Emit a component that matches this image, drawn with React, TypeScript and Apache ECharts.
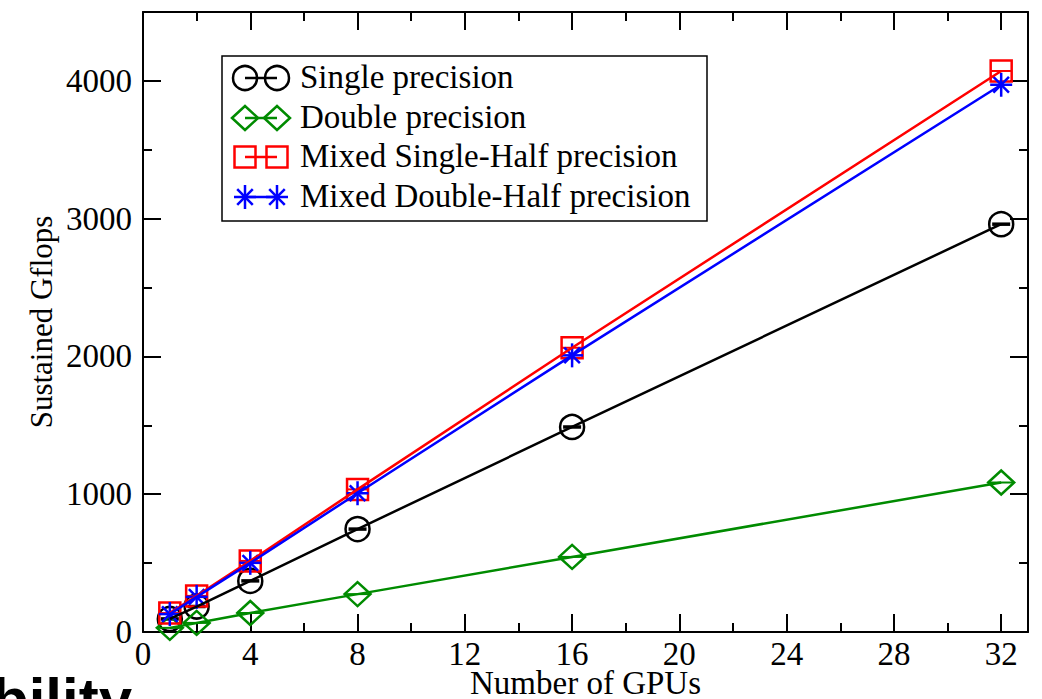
import React, { useEffect, useRef } from 'react';
import * as echarts from 'echarts';

const gpus = [1, 2, 4, 8, 16, 32];
const singlePrecision = [95, 185, 371, 747, 1488, 2960];
const doublePrecision = [30, 66, 138, 275, 545, 1085];
const mixedSingleHalf = [137, 262, 516, 1035, 2063, 4072];
const mixedDoubleHalf = [130, 255, 502, 1007, 2008, 3972];

const xMajorTicks = [0, 4, 8, 12, 16, 20, 24, 28, 32];
const xMinorTicks = [2, 6, 10, 14, 18, 22, 26, 30];
const yMajorTicks = [0, 1000, 2000, 3000, 4000];
const yMinorTicks = [500, 1500, 2500, 3500];

const seriesNames = [
  'Single precision',
  'Double precision',
  'Mixed Single-Half precision',
  'Mixed Double-Half precision',
];
const seriesValues = [singlePrecision, doublePrecision, mixedSingleHalf, mixedDoubleHalf];
const seriesColors = ['#000000', '#008b00', '#ff0000', '#0000ff'];
const markerKinds = ['circle', 'diamond', 'square', 'star'];

const FONT = '"Liberation Serif", "Times New Roman", serif';

function markerChildren(kind: string, cx: number, cy: number, color: string, withBar: boolean): any[] {
  const s = { fill: 'none', stroke: color, lineWidth: 2.5 };
  const bar = (half: number, w: number) => ({
    type: 'line',
    shape: { x1: cx - half, y1: cy, x2: cx + half, y2: cy },
    style: { stroke: color, lineWidth: w },
  });
  let out: any[] = [];
  if (kind === 'circle') {
    out = [{ type: 'circle', shape: { cx, cy, r: 12 }, style: s }];
    if (withBar) out.push(bar(9, 3.5));
  } else if (kind === 'diamond') {
    out = [
      {
        type: 'polygon',
        shape: { points: [[cx - 13, cy], [cx, cy - 12], [cx + 13, cy], [cx, cy + 12]] },
        style: s,
      },
    ];
    if (withBar) out.push(bar(12, 2));
  } else if (kind === 'square') {
    out = [{ type: 'rect', shape: { x: cx - 10.5, y: cy - 10.5, width: 21, height: 21 }, style: s }];
    if (withBar) out.push(bar(10, 2));
  } else {
    out = [0, 45, 90, 135].map((a) => {
      const rad = (a * Math.PI) / 180;
      const r = a === 90 ? 12 : 11;
      const dx = r * Math.cos(rad);
      const dy = r * Math.sin(rad);
      return {
        type: 'line',
        shape: { x1: cx - dx, y1: cy - dy, x2: cx + dx, y2: cy + dy },
        style: { stroke: color, lineWidth: 2.5 },
      };
    });
  }
  return out;
}

function xAxisDef(position: string, ticks: number[], len: number, showLine: boolean, showLabel: boolean, withName: boolean): any {
  return {
    type: 'value',
    position,
    min: 0,
    max: 33,
    name: withName ? 'Number of GPUs' : '',
    nameLocation: 'middle',
    nameGap: 34,
    nameMoveOverlap: false,
    nameTextStyle: { fontFamily: FONT, fontSize: 33, color: '#000' },
    axisLine: { show: showLine, onZero: false, lineStyle: { color: '#000', width: 2 } },
    axisTick: { show: true, inside: true, length: len, customValues: ticks, lineStyle: { color: '#000', width: 2 } },
    axisLabel: {
      show: showLabel,
      customValues: ticks,
      margin: 5,
      fontFamily: FONT,
      fontSize: 33,
      color: '#000',
      formatter: (v: number) => String(v),
    },
    splitLine: { show: false },
  };
}

function yAxisDef(position: string, ticks: number[], len: number, showLine: boolean, showLabel: boolean, withName: boolean): any {
  return {
    type: 'value',
    position,
    min: 0,
    max: 4500,
    name: withName ? 'Sustained Gflops' : '',
    nameLocation: 'middle',
    nameRotate: 90,
    nameGap: 86,
    nameMoveOverlap: false,
    nameTextStyle: { fontFamily: FONT, fontSize: 31, color: '#000' },
    axisLine: { show: showLine, onZero: false, lineStyle: { color: '#000', width: 2 } },
    axisTick: { show: true, inside: true, length: len, customValues: ticks, lineStyle: { color: '#000', width: 2 } },
    axisLabel: {
      show: showLabel,
      customValues: ticks,
      margin: 11,
      fontFamily: FONT,
      fontSize: 33,
      color: '#000',
      formatter: (v: number) => String(v),
    },
    splitLine: { show: false },
  };
}

export default function App() {
  const ref = useRef<HTMLDivElement>(null);

  useEffect(() => {
    if (!ref.current) return;
    const chart = echarts.init(ref.current, undefined, { renderer: 'svg' });

    const series: any[] = [];
    seriesNames.forEach((name, i) => {
      const data = gpus.map((g, k) => [g, seriesValues[i][k]]);
      series.push({
        name,
        type: 'line',
        data,
        symbol: 'none',
        lineStyle: { color: seriesColors[i], width: 2.5 },
        itemStyle: { color: seriesColors[i] },
        xAxisIndex: 0,
        yAxisIndex: 0,
      });
      series.push({
        name: name + ' markers',
        type: 'custom',
        data,
        xAxisIndex: 0,
        yAxisIndex: 0,
        encode: { x: 0, y: 1 },
        renderItem: (params: any, api: any) => {
          const p = api.coord([api.value(0), api.value(1)]);
          return {
            type: 'group',
            children: markerChildren(markerKinds[i], p[0], p[1], seriesColors[i], true),
          };
        },
      });
    });

    const legendRows = [78, 118, 157, 197];
    const legendGraphics: any[] = [
      {
        type: 'rect',
        shape: { x: 222, y: 56, width: 485, height: 165 },
        style: { fill: '#fff', stroke: '#000', lineWidth: 1.5 },
        z: 100,
      },
    ];
    seriesNames.forEach((name, i) => {
      const y = legendRows[i];
      legendGraphics.push({
        type: 'line',
        shape: { x1: 245, y1: y, x2: 277, y2: y },
        style: { stroke: seriesColors[i], lineWidth: 2.5 },
        z: 101,
      });
      markerChildren(markerKinds[i], 245, y, seriesColors[i], false).forEach((c) =>
        legendGraphics.push({ ...c, z: 101 })
      );
      markerChildren(markerKinds[i], 277, y, seriesColors[i], false).forEach((c) =>
        legendGraphics.push({ ...c, z: 101 })
      );
      legendGraphics.push({
        type: 'text',
        x: 300,
        y: y - 1,
        style: {
          text: name,
          fill: '#000',
          fontFamily: FONT,
          fontSize: 33,
          align: 'left',
          verticalAlign: 'middle',
        },
        z: 101,
      });
    });
    legendGraphics.push({
      type: 'text',
      x: -8,
      y: 699,
      style: {
        text: 'bility',
        fill: '#000',
        fontFamily: '"Liberation Sans", Arial, sans-serif',
        fontWeight: 'bold',
        fontSize: 60,
        align: 'left',
        verticalAlign: 'middle',
      },
      z: 101,
    });

    chart.setOption({
      animation: false,
      backgroundColor: '#ffffff',
      grid: {
        left: 143,
        top: 12,
        right: 14,
        bottom: 67,
        containLabel: false,
        outerBoundsMode: 'none',
        show: false,
      },
      xAxis: [
        xAxisDef('bottom', xMajorTicks, 18, true, true, true),
        xAxisDef('bottom', xMinorTicks, 9, false, false, false),
        xAxisDef('top', xMajorTicks, 18, true, false, false),
        xAxisDef('top', xMinorTicks, 9, false, false, false),
      ],
      yAxis: [
        yAxisDef('left', yMajorTicks, 18, true, true, true),
        yAxisDef('left', yMinorTicks, 9, false, false, false),
        yAxisDef('right', yMajorTicks, 18, true, false, false),
        yAxisDef('right', yMinorTicks, 9, false, false, false),
      ],
      series,
      graphic: legendGraphics,
    });

    return () => chart.dispose();
  }, []);

  return (
    <div
      ref={ref}
      style={{ position: 'fixed', left: 0, top: 0, width: 1042, height: 699, background: '#fff' }}
    />
  );
}
